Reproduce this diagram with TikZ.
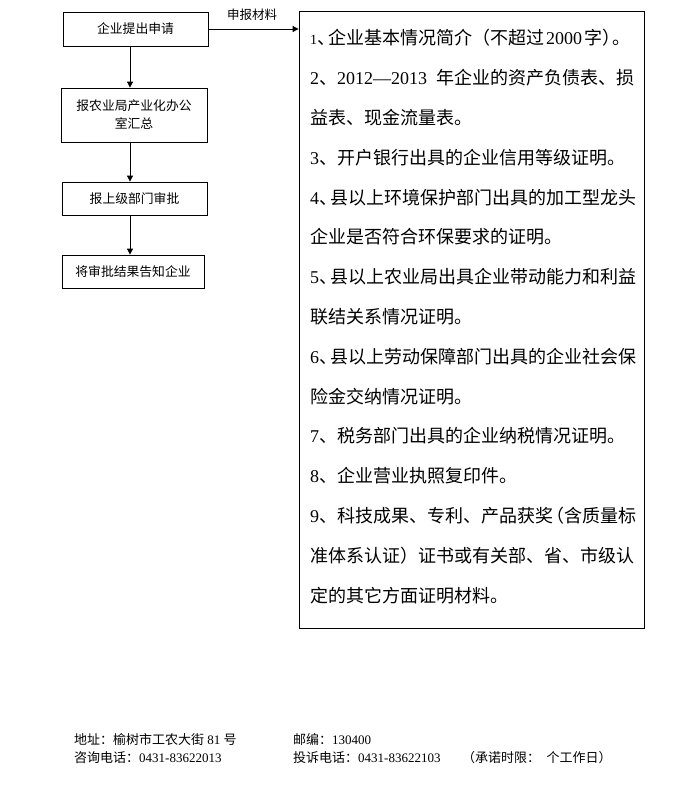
\documentclass[tikz,border=0pt]{standalone}
\usepackage{fontspec}
\setmainfont{Liberation Serif}
\newfontfamily\cjk{Noto Sans CJK SC}
\newfontfamily\lat{Liberation Serif}
\usetikzlibrary{arrows.meta}
\newcommand\tightdun{、\kern-0.4em}
\begin{document}
\begin{tikzpicture}[x=1pt,y=-1pt,
  flowbox/.style={draw,line width=0.8pt,inner sep=0pt,align=center,font=\cjk\fontsize{12.8}{18}\selectfont},
  bigbox/.style={draw,line width=0.8pt,inner sep=0pt},
  item/.style={anchor=west,inner sep=0pt,font=\cjk\fontsize{18}{20}\selectfont},
  foot/.style={anchor=west,inner sep=0pt,font=\cjk\fontsize{13}{15}\selectfont},
  lbl/.style={inner sep=0pt,font=\cjk\fontsize{12.5}{14}\selectfont},
  arr/.style={-{Triangle[length=6pt,width=6pt]},line width=0.8pt}]
\useasboundingbox (0,0) rectangle (700,800);

% left flow boxes
\node[flowbox,minimum width=145pt,minimum height=34pt] (b1) at (135.5,29) {企业提出申请};
\node[flowbox,minimum width=146pt,minimum height=54pt] (b2) at (134,115) {报农业局产业化办公\\室汇总};
\node[flowbox,minimum width=145pt,minimum height=33pt] (b3) at (134.5,198.5) {报上级部门审批};
\node[flowbox,minimum width=142pt,minimum height=33pt] (b4) at (133,271.5) {将审批结果告知企业};

% big materials box
\node[bigbox,minimum width=345pt,minimum height=617pt] (big) at (471.5,319.5) {};

% connectors
\draw[arr] ([xshift=-5.5pt]b1.south) -- ([xshift=-5.5pt]b1.south |- b2.north);
\draw[arr] ([xshift=-4.5pt]b3.north |- b2.south) -- ([xshift=-4.5pt]b3.north);
\draw[arr] ([xshift=-4.5pt]b3.south) -- ([xshift=-4.5pt]b3.south |- b4.north);
\draw[arr] (b1.east) -- (b1.east -| big.west);
\node[lbl] (lab) at (252,15) {申报材料};

% list items
\node[item] (l1) at (310,38) {{\lat\fontsize{14}{16}\selectfont 1}\tightdun 企业基本情况简介（不超过\hspace{2pt}{\lat 2000}\hspace{2pt}字）\kern-0.4em 。};
\node[item] (l2) at (310,77.8) {{\lat 2}、{\lat 2012—2013\ \ }年企业的资产负债表、损};
\node[item] (l3) at (310,117.6) {益表、现金流量表。};
\node[item] (l4) at (310,157.4) {{\lat 3}、开户银行出具的企业信用等级证明。};
\node[item] (l5) at (310,197.2) {{\lat 4}\tightdun 县以上环境保护部门出具的加工型龙头};
\node[item] (l6) at (310,237) {企业是否符合环保要求的证明。};
\node[item] (l7) at (310,276.8) {{\lat 5}\tightdun 县以上农业局出具企业带动能力和利益};
\node[item] (l8) at (310,316.6) {联结关系情况证明。};
\node[item] (l9) at (310,356.4) {{\lat 6}\tightdun 县以上劳动保障部门出具的企业社会保};
\node[item] (l10) at (310,396.2) {险金交纳情况证明。};
\node[item] (l11) at (310,436) {{\lat 7}、税务部门出具的企业纳税情况证明。};
\node[item] (l12) at (310,475.8) {{\lat 8}、企业营业执照复印件。};
\node[item] (l13) at (310,515.6) {{\lat 9}、科技成果、专利、产品获奖\kern-0.4em（含质量标};
\node[item] (l14) at (310,555.4) {准体系认证）证书或有关部、省、市级认};
\node[item] (l15) at (310,595.2) {定的其它方面证明材料。};

% footer
\node[foot] (f1) at (74,740) {地址：榆树市工农大街{\lat\ 81 }号};
\node[foot] (f2) at (293,740) {邮编：{\lat 130400}};
\node[foot] (f3) at (74,758) {咨询电话：{\lat 0431-83622013}};
\node[foot] (f4) at (293,758) {投诉电话：{\lat 0431-83622103}};
\node[foot] (f5) at (462,758) {（承诺时限：\hspace{0.5em}个工作日）};
\end{tikzpicture}
\end{document}
